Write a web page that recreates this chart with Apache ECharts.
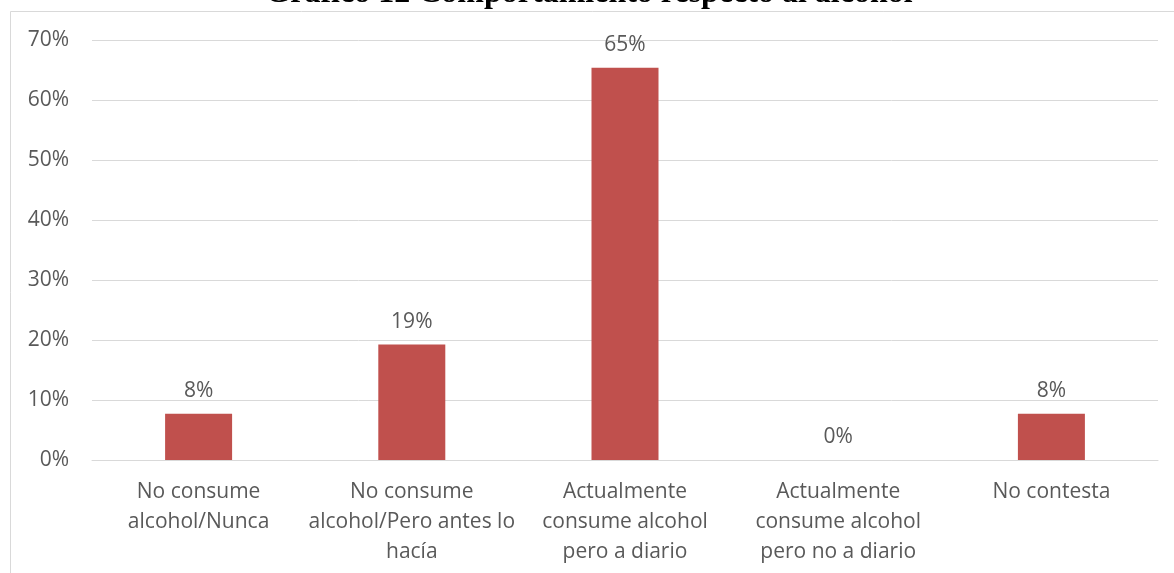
<!DOCTYPE html>
<html>
<head>
<meta charset="utf-8">
<script src="https://cdn.jsdelivr.net/npm/echarts@6/dist/echarts.min.js"></script>
<style>
  html, body { margin: 0; padding: 0; background: #ffffff; }
  #chart { width: 1174px; height: 573px; }
</style>
</head>
<body>
<div id="chart"></div>
<script>
// Survey answers about alcohol use (percent of respondents)
const categories = [
  'No consume\nalcohol/Nunca',
  'No consume\nalcohol/Pero antes lo\nhacía',
  'Actualmente\nconsume alcohol\npero a diario',
  'Actualmente\nconsume alcohol\npero no a diario',
  'No contesta'
];
const percentValues = [7.69, 19.23, 65.38, 0, 7.69];
const yTicks = { min: 0, max: 70, interval: 10 };
const chartTitle = 'Gráfico 12 Comportamiento respecto al alcohol';

const textColor = '#595959';
const gridColor = '#d9d9d9';
const labelFont = '"Open Sans", sans-serif';

const chart = echarts.init(document.getElementById('chart'), null, { renderer: 'canvas' });

chart.setOption({
  animation: false,
  backgroundColor: '#ffffff',
  graphic: [
    {
      type: 'rect',
      shape: { x: 10.5, y: 11.5, width: 1300, height: 700 },
      style: { fill: 'none', stroke: gridColor, lineWidth: 1 },
      silent: true,
      z: 0
    },
    {
      type: 'text',
      x: 589,
      y: -6,
      style: {
        text: chartTitle,
        fill: '#000000',
        font: 'bold 32px "Liberation Serif", serif',
        align: 'center',
        verticalAlign: 'middle'
      },
      silent: true,
      z: 10
    }
  ],
  grid: { left: 92, right: 16, top: 40, bottom: 113, containLabel: false },
  xAxis: {
    type: 'category',
    data: categories,
    axisLine: { show: true, lineStyle: { color: gridColor, width: 1 } },
    axisTick: { show: false },
    axisLabel: {
      color: textColor,
      fontFamily: labelFont,
      fontSize: 21,
      lineHeight: 30,
      margin: 17,
      interval: 0
    }
  },
  yAxis: {
    type: 'value',
    min: yTicks.min,
    max: yTicks.max,
    interval: yTicks.interval,
    axisLine: { show: false },
    axisTick: { show: false },
    splitLine: { lineStyle: { color: gridColor, width: 1 } },
    axisLabel: {
      color: textColor,
      fontFamily: labelFont,
      fontSize: 21,
      margin: 23,
      formatter: '{value}%'
    }
  },
  series: [
    {
      type: 'bar',
      data: percentValues,
      barWidth: 67,
      itemStyle: { color: '#c0504d' },
      label: {
        show: true,
        position: 'top',
        distance: 12,
        color: textColor,
        fontFamily: labelFont,
        fontSize: 21,
        formatter: function (p) { return Math.round(p.value) + '%'; }
      }
    }
  ]
});
</script>
</body>
</html>
